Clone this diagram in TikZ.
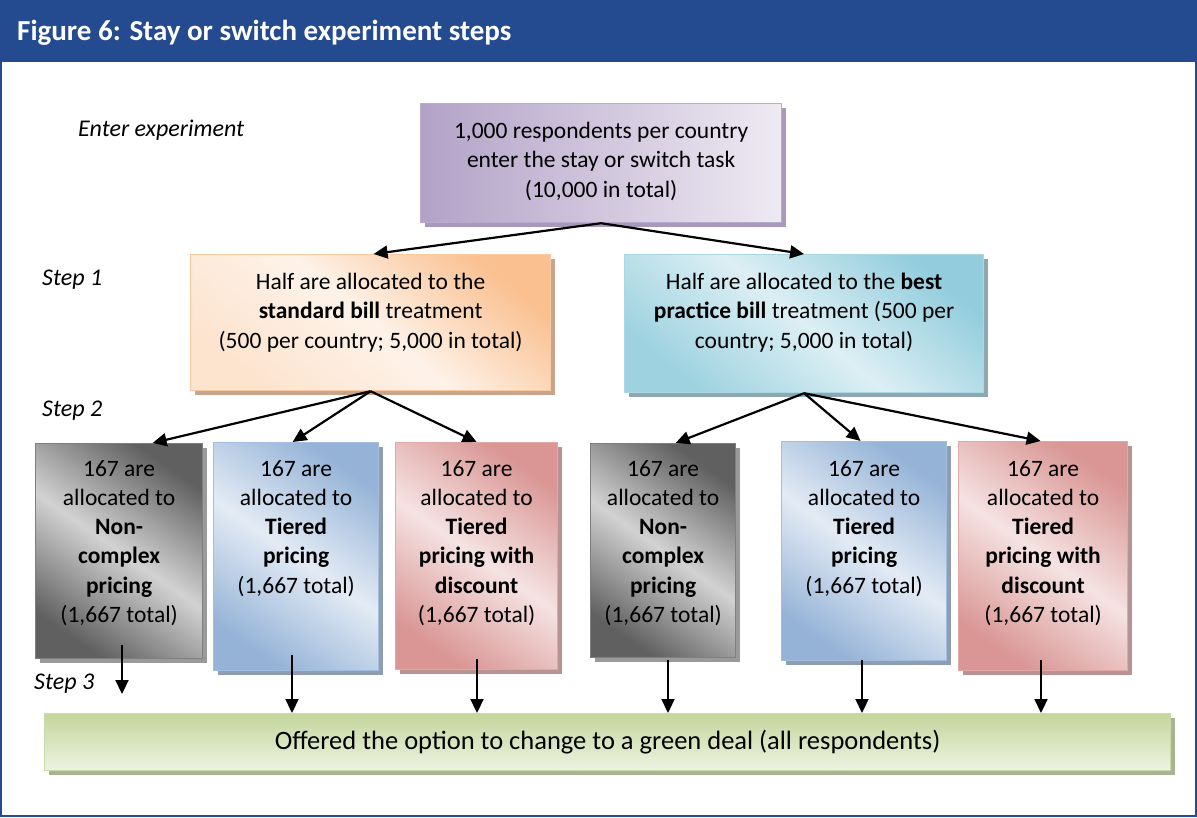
\documentclass[tikz,border=0pt]{standalone}
\usepackage{fontspec}
\setmainfont{Carlito}
\usetikzlibrary{arrows.meta,shadows}
\definecolor{hdr}{HTML}{244A8F}
\definecolor{purD}{HTML}{B3A2C7}
\definecolor{purL}{HTML}{EEEAF3}
\definecolor{purB}{HTML}{B9ABCF}
\definecolor{purS}{HTML}{A899B8}
\definecolor{orD}{HTML}{FAC090}
\definecolor{orL}{HTML}{FDEADA}
\definecolor{orB}{HTML}{F9C9A2}
\definecolor{orS}{HTML}{C8A58C}
\definecolor{cyD}{HTML}{93CDDD}
\definecolor{cyL}{HTML}{DCEFF4}
\definecolor{cyB}{HTML}{A9D8E4}
\definecolor{cyS}{HTML}{8FA7AE}
\definecolor{grD}{HTML}{606060}
\definecolor{grL}{HTML}{D2D2D2}
\definecolor{grB}{HTML}{7F7F7F}
\definecolor{grS}{HTML}{9A9A9A}
\definecolor{blD}{HTML}{95B3D7}
\definecolor{blL}{HTML}{DCE6F2}
\definecolor{blB}{HTML}{A4BEDF}
\definecolor{blS}{HTML}{8E9DB0}
\definecolor{rdD}{HTML}{D99694}
\definecolor{rdL}{HTML}{F2DCDB}
\definecolor{rdB}{HTML}{E0A8A7}
\definecolor{rdS}{HTML}{B79493}
\definecolor{gnD}{HTML}{C3D69B}
\definecolor{gnL}{HTML}{EEF3E3}
\definecolor{gnB}{HTML}{C9DBA6}
\definecolor{gnS}{HTML}{A8B393}
\begin{document}
\begin{tikzpicture}[x=1pt,y=-1pt,
  box/.style={anchor=north west, inner sep=0pt, line width=1.2pt,
     drop shadow={shadow xshift=4pt,shadow yshift=-4pt,opacity=1,fill=#1}},
  purplebox/.style={box=purS, draw=purB, left color=purD, right color=purL},
  orangebox/.style={box=orS, draw=orB, top color=orD, bottom color=orL!85!orD, middle color=orL!60, shading angle=-40},
  cyanbox/.style={box=cyS, draw=cyB, top color=cyD, bottom color=cyD!85!cyL, middle color=cyL, shading angle=-40},
  greybox/.style={box=grS, draw=grB, top color=grD, bottom color=grD, middle color=grL, shading angle=-35},
  bluebox/.style={box=blS, draw=blB, top color=blD, bottom color=blD, middle color=blL!80, shading angle=-35},
  redbox/.style={box=rdS, draw=rdB, top color=rdD, bottom color=rdD, middle color=rdL!80, shading angle=-35},
  greenbox/.style={box=gnS, draw=gnB, top color=gnD, bottom color=gnL},
  txt/.style={anchor=north, inner sep=0pt, align=center, font=\fontsize{23.5}{29.3}\selectfont},
  steplbl/.style={anchor=west, inner sep=0pt, font=\fontsize{24}{28}\selectfont\itshape},
  arr/.style={-{Triangle[length=14pt,width=13pt]}, line width=2.2pt}]
\useasboundingbox (0,0) rectangle (1197,817);
\fill[hdr] (0,0) rectangle (1197,62);
\draw[hdr,line width=2pt] (1,1) rectangle (1196,816);
\node[anchor=base west,inner sep=0pt,text=white,font=\fontsize{29}{32}\selectfont\bfseries] (title) at (17,40) {Figure 6: Stay or switch experiment steps};

% step labels
\node[steplbl] (l0) at (78,130) {Enter experiment};
\node[steplbl] (l1) at (42,280) {Step 1};
\node[steplbl] (l2) at (42,411) {Step 2};
\node[steplbl] (l3) at (34,684) {Step 3};

% top box
\node[purplebox, minimum width=361pt, minimum height=119pt] (t) at (420,103) {};
\node[txt] (tt) at ([yshift=-19pt]t.north) {1,000 respondents per country\\enter the stay or switch task\\(10,000 in total)};

% step 1 boxes
\node[orangebox, minimum width=360pt, minimum height=136pt] (o) at (190,254) {};
\node[txt] (ot) at ([yshift=-19pt]o.north) {Half are allocated to the\\\textbf{standard bill} treatment\\(500 per country; 5,000 in total)};
\node[cyanbox, minimum width=359pt, minimum height=138pt] (c) at (624,254) {};
\node[txt] (ct) at ([yshift=-19pt]c.north) {Half are allocated to the \textbf{best}\\\textbf{practice bill} treatment (500 per\\country; 5,000 in total)};

% step 2 boxes
\node[greybox, minimum width=167pt, minimum height=215pt] (g1) at (35,443) {};
\node[txt] (g1t) at ([yshift=-17pt]g1.north) {167 are\\allocated to\\\textbf{Non-}\\\textbf{complex}\\\textbf{pricing}\\(1,667 total)};
\node[bluebox, minimum width=165pt, minimum height=228pt] (b1) at (213,442) {};
\node[txt] (b1t) at ([yshift=-18pt]b1.north) {167 are\\allocated to\\\textbf{Tiered}\\\textbf{pricing}\\(1,667 total)};
\node[redbox, minimum width=162pt, minimum height=227pt] (r1) at (395,442) {};
\node[txt] (r1t) at ([yshift=-18pt]r1.north) {167 are\\allocated to\\\textbf{Tiered}\\\textbf{pricing with}\\\textbf{discount}\\(1,667 total)};
\node[greybox, minimum width=145pt, minimum height=214pt] (g2) at (590,443) {};
\node[txt] (g2t) at ([yshift=-17pt]g2.north) {167 are\\allocated to\\\textbf{Non-}\\\textbf{complex}\\\textbf{pricing}\\(1,667 total)};
\node[bluebox, minimum width=165pt, minimum height=219pt] (b2) at (781,441) {};
\node[txt] (b2t) at ([yshift=-19pt]b2.north) {167 are\\allocated to\\\textbf{Tiered}\\\textbf{pricing}\\(1,667 total)};
\node[redbox, minimum width=169pt, minimum height=229pt] (r2) at (958,441) {};
\node[txt] (r2t) at ([yshift=-19pt]r2.north) {167 are\\allocated to\\\textbf{Tiered}\\\textbf{pricing with}\\\textbf{discount}\\(1,667 total)};

% step 3 box
\node[greenbox, minimum width=1126pt, minimum height=57pt, font=\fontsize{26.5}{30}\selectfont] (gr) at (44,713) {Offered the option to change to a green deal (all respondents)};

% arrows step 1
\draw[arr] (t.south) -- ([xshift=3pt]o.north);
\draw[arr] (t.south) -- (c.north);
% arrows step 2
\draw[arr] (o.south) -- ([xshift=33.5pt]g1.north);
\draw[arr] (o.south) -- ([xshift=-3.5pt]b1.north);
\draw[arr] (o.south) -- (r1.north);
\draw[arr] (c.south) -- ([xshift=12.5pt]g2.north);
\draw[arr] (c.south) -- ([xshift=-3.5pt]b2.north);
\draw[arr] (c.south) -- ([xshift=-2.5pt]r2.north);
% arrows step 3
\coordinate (s1) at (122,645);
\coordinate (e1) at (122,694);
\coordinate (s2) at (292,655);
\coordinate (s3) at (477,659);
\coordinate (s4) at (668,660);
\coordinate (s5) at (862,660);
\coordinate (s6) at (1041,660);
\draw[arr] (s1) -- (e1);
\draw[arr] (s2) -- (s2 |- gr.north);
\draw[arr] (s3) -- (s3 |- gr.north);
\draw[arr] (s4) -- (s4 |- gr.north);
\draw[arr] (s5) -- (s5 |- gr.north);
\draw[arr] (s6) -- (s6 |- gr.north);
\end{tikzpicture}
\end{document}
